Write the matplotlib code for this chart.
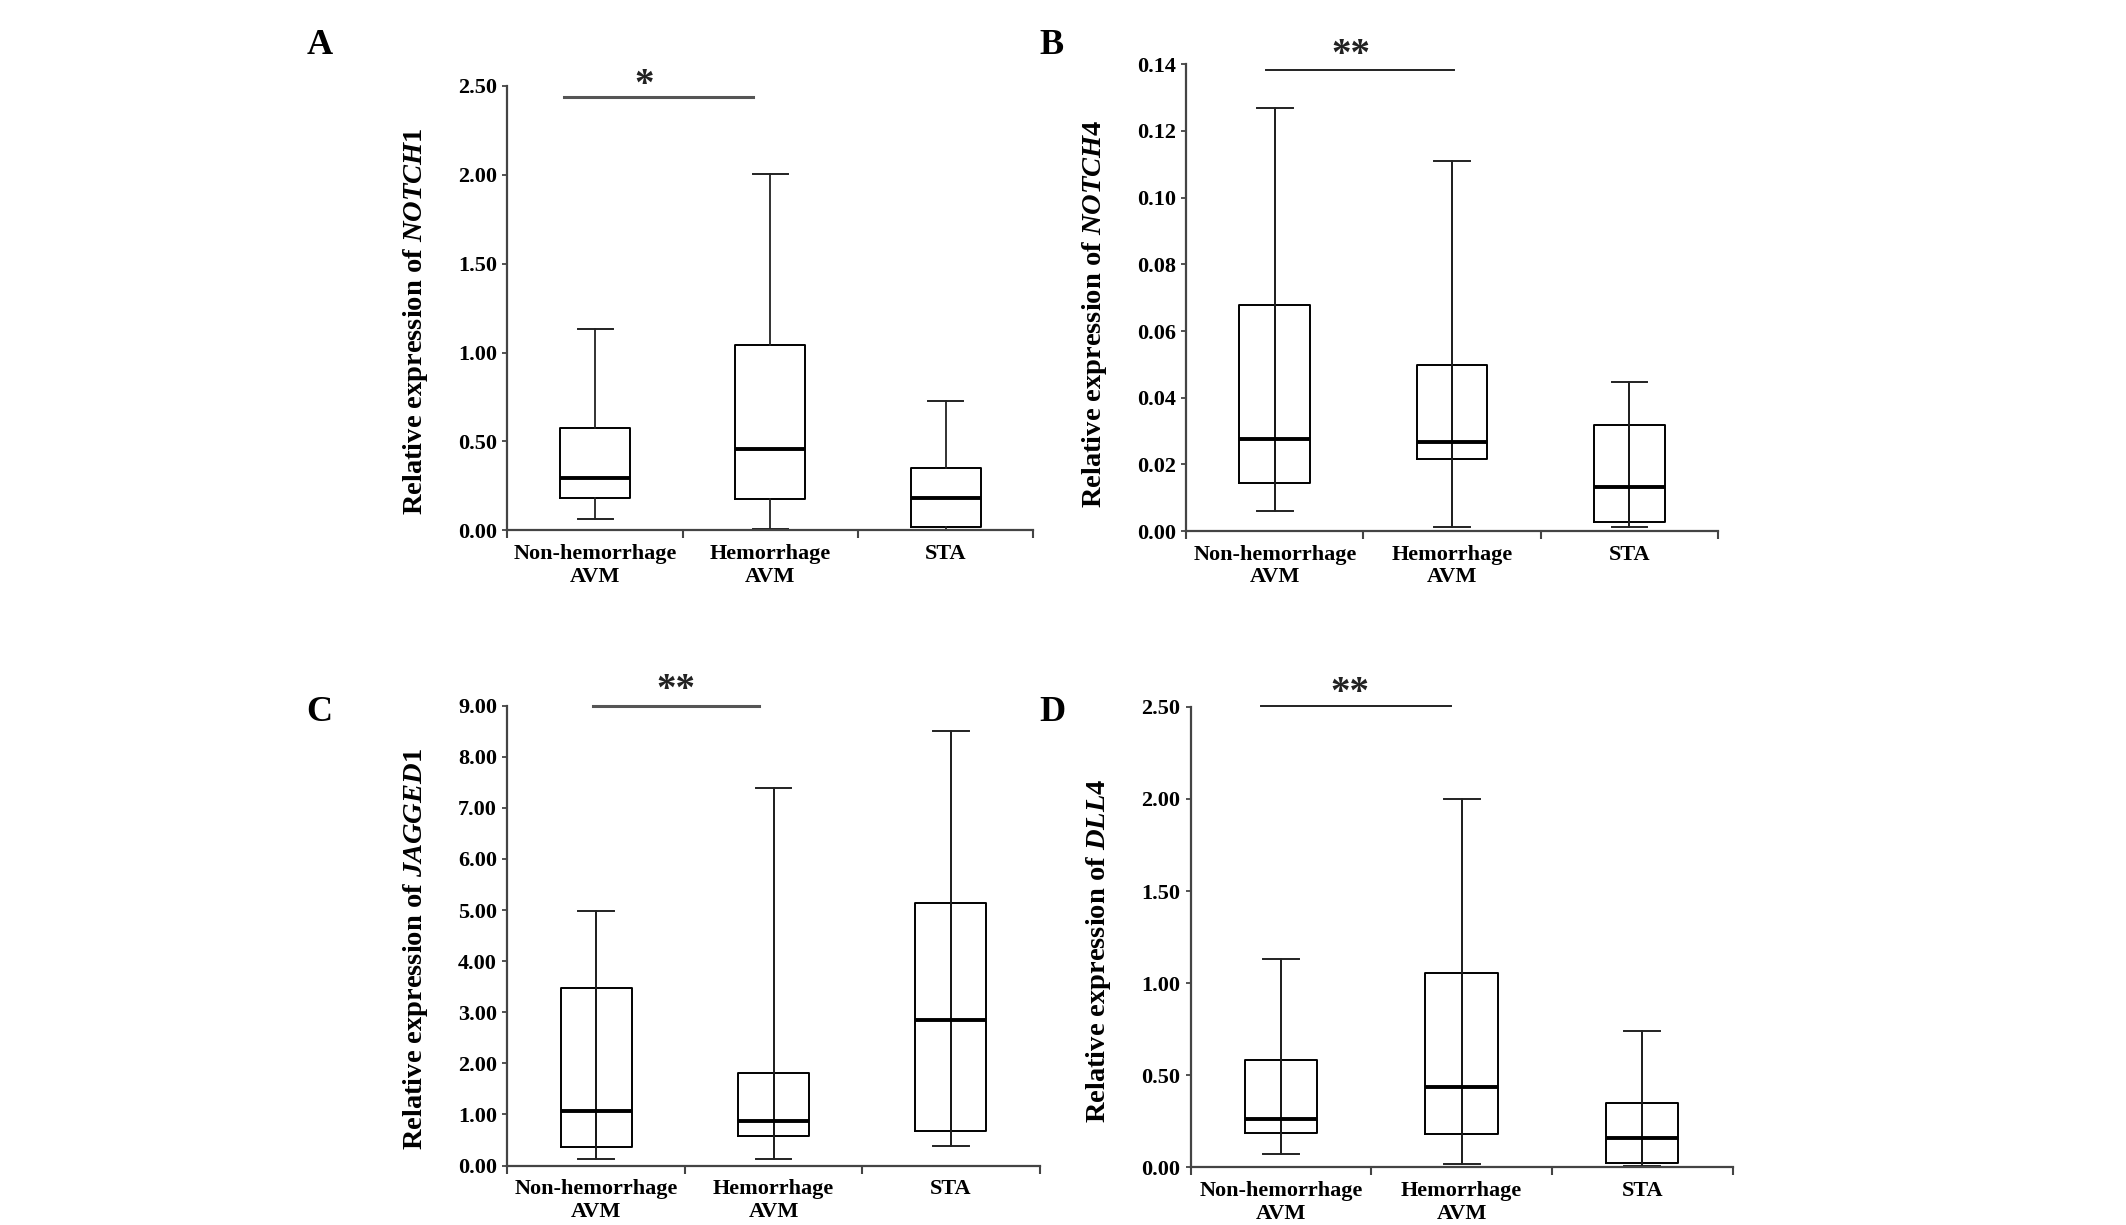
import matplotlib
matplotlib.use("Agg")
import matplotlib.pyplot as plt
import numpy as np

plt.rcParams["font.family"] = ["Liberation Serif", "DejaVu Serif"]
plt.rcParams["font.weight"] = "bold"
plt.rcParams["mathtext.fontset"] = "custom"
plt.rcParams["mathtext.rm"] = "Liberation Serif:bold"
plt.rcParams["mathtext.it"] = "Liberation Serif:italic:bold"

categories = ["Non-hemorrhage\nAVM", "Hemorrhage\nAVM", "STA"]

# five-number summaries per group: (low whisker, Q1, median, Q3, high whisker)
notch1_box = [(0.067, 0.185, 0.292, 0.575, 1.133),
              (0.006, 0.178, 0.457, 1.045, 2.006),
              (0.003, 0.017, 0.180, 0.352, 0.730)]
notch4_box = [(0.0061, 0.0143, 0.0275, 0.0679, 0.1268),
              (0.0011, 0.0216, 0.0267, 0.0497, 0.1110),
              (0.0011, 0.0026, 0.0132, 0.0319, 0.0448)]
jagged1_box = [(0.124, 0.364, 1.064, 3.47, 4.98),
               (0.124, 0.583, 0.880, 1.82, 7.38),
               (0.386, 0.670, 2.857, 5.13, 8.51)]
dll4_box = [(0.071, 0.189, 0.263, 0.585, 1.130),
            (0.016, 0.183, 0.434, 1.053, 1.998),
            (0.006, 0.022, 0.159, 0.352, 0.739)]

genes = ["NOTCH1", "NOTCH4", "JAGGED1", "DLL4"]
panel_letters = ["A", "B", "C", "D"]
y_max = [2.5, 0.14, 9.0, 2.5]
y_step = [0.5, 0.02, 1.0, 0.5]
sig_stars = ["*", "**", "**", "**"]
sig_y = [2.437, 0.1383, 8.99, 2.505]
sig_x = [(0.32, 1.40), (0.45, 1.51), (0.48, 1.42), (0.39, 1.44)]
star_x = [0.78, 0.93, 0.95, 0.88]
through_box = [False, True, True, True]

panel_data = [notch1_box, notch4_box, jagged1_box, dll4_box]

fig = plt.figure(figsize=(21.26, 12.25), dpi=100)

rects = [
    [0.2387, 0.5670, 0.2473, 0.3630],
    [0.5580, 0.5665, 0.2500, 0.3810],
    [0.2387, 0.0485, 0.2503, 0.3755],
    [0.5600, 0.0470, 0.2550, 0.3760],
]
letter_pos = [(0.144, 0.963), (0.489, 0.963), (0.144, 0.418), (0.489, 0.418)]
label_y = [0.47, 0.465, 0.47, 0.47]
star_dy = [2, 5, 6, 3]

positions = [0.5, 1.5, 2.5]

for i in range(4):
    ax = fig.add_axes(rects[i])
    stats = []
    for lo, q1, med, q3, hi in panel_data[i]:
        stats.append(dict(whislo=lo, q1=q1, med=med, q3=q3, whishi=hi, fliers=[]))

    if through_box[i]:
        lows = [s["whislo"] for s in stats]
        highs = [s["whishi"] for s in stats]
        ax.vlines(positions, lows, highs, color="black", linewidth=1.3, zorder=1)

    ax.bxp(stats, positions=positions, widths=0.4, showfliers=False,
           boxprops=dict(color="black", linewidth=1.4),
           medianprops=dict(color="black", linewidth=2.8),
           whiskerprops=dict(color="#222222", linewidth=1.3),
           capprops=dict(color="#222222", linewidth=1.4),
           capwidths=0.2)

    ax.set_xlim(0, 3)
    ax.set_ylim(0, y_max[i])
    ax.set_yticks(np.arange(0, y_max[i] + y_step[i] / 2, y_step[i]))
    ax.set_yticklabels([f"{v:.2f}" for v in ax.get_yticks()], fontsize=16, fontweight="bold")

    ax.set_xticks([0, 1, 2, 3])
    ax.set_xticklabels([])
    ax.set_xticks(positions, minor=True)
    ax.set_xticklabels(categories, minor=True, fontsize=16, fontweight="bold", linespacing=1.15)
    ax.tick_params(axis="x", which="minor", length=0, pad=10)
    ax.tick_params(axis="x", which="major", length=6, width=1.5, color="#444444", direction="out")
    ax.tick_params(axis="y", length=3.5, width=1.3, color="#444444", direction="out", pad=4)

    for side in ["top", "right"]:
        ax.spines[side].set_visible(False)
    for side in ["left", "bottom"]:
        ax.spines[side].set_color("#444444")
        ax.spines[side].set_linewidth(1.6)

    ax.set_ylabel(f"Relative expression of $\\mathit{{{genes[i]}}}$", fontsize=20.5, fontweight="bold", labelpad=20)
    ax.yaxis.label.set_y(label_y[i])

    bar_col = "#555555" if i in (0, 2) else "#222222"
    bar_lw = 2.2 if i in (0, 2) else 1.4
    ax.plot(sig_x[i], [sig_y[i], sig_y[i]], color=bar_col, linewidth=bar_lw, clip_on=False)
    ax.annotate(sig_stars[i], xy=(star_x[i], sig_y[i]), xytext=(0, star_dy[i]), textcoords="offset pixels",
                ha="center", va="baseline", fontsize=28, fontweight="bold", color="#222222",
                annotation_clip=False)

    fig.text(letter_pos[i][0], letter_pos[i][1], panel_letters[i], fontsize=26, fontweight="bold",
             ha="left", va="center")

fig.savefig("out.png", dpi=100)
